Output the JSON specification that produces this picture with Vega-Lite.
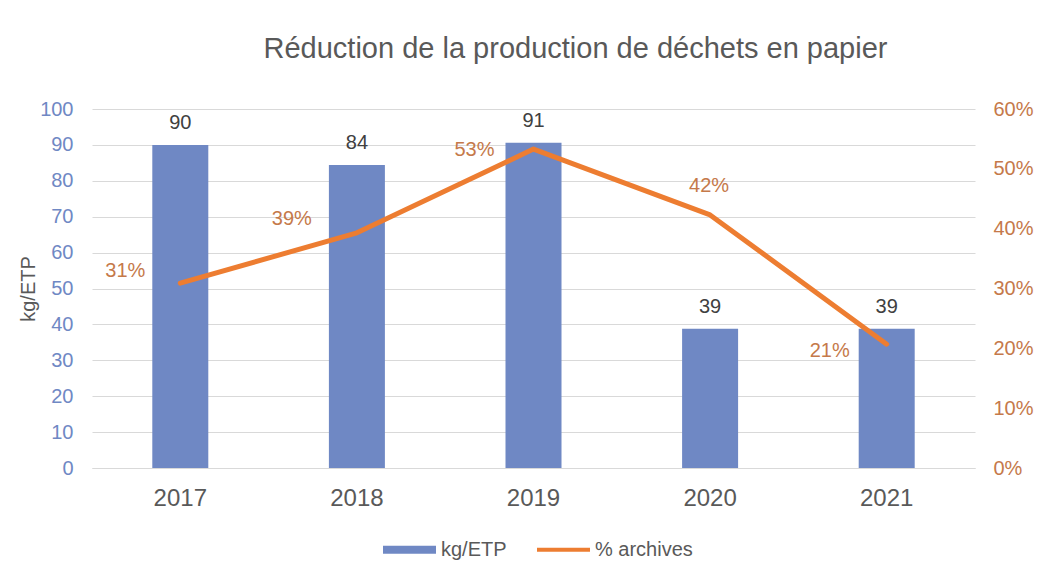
{
  "$schema": "https://vega.github.io/schema/vega-lite/v6.json",
  "width": 883,
  "height": 359,
  "autosize": {"type": "none"},
  "padding": {"left": 92, "top": 109, "right": 79, "bottom": 110},
  "background": "white",
  "title": {
    "text": "Réduction de la production de déchets en papier",
    "font": "Liberation Sans",
    "fontSize": 29,
    "fontWeight": "normal",
    "color": "#595959",
    "anchor": "middle",
    "frame": "group",
    "dx": 42,
    "offset": 35
  },
  "data": {
    "values": [
      {"year": "2017", "kg": 90, "pct": 0.309},
      {"year": "2018", "kg": 84.4, "pct": 0.393},
      {"year": "2019", "kg": 90.6, "pct": 0.533},
      {"year": "2020", "kg": 38.8, "pct": 0.423},
      {"year": "2021", "kg": 38.8, "pct": 0.207}
    ]
  },
  "encoding": {
    "x": {
      "field": "year",
      "type": "ordinal",
      "scale": {"paddingInner": 0, "paddingOuter": 0},
      "axis": {
        "title": null,
        "labelAngle": 0,
        "labelFontSize": 24,
        "labelColor": "#595959",
        "labelPadding": 18,
        "domain": true,
        "domainColor": "#D9D9D9",
        "domainWidth": 1,
        "ticks": false,
        "grid": false
      }
    }
  },
  "layer": [
    {
      "encoding": {
        "y": {
          "field": "kg",
          "type": "quantitative",
          "scale": {"domain": [0, 100], "nice": false},
          "axis": {
            "values": [0, 10, 20, 30, 40, 50, 60, 70, 80, 90, 100],
            "labelOverlap": false,
            "labelColor": "#6F88C4",
            "labelFontSize": 20,
            "labelPadding": 19,
            "title": "kg/ETP",
            "titleColor": "#595959",
            "titleFontSize": 20,
            "titleFontWeight": "normal",
            "titlePadding": 1,
            "grid": true,
            "gridColor": "#D9D9D9",
            "gridWidth": 1,
            "domain": false,
            "ticks": false
          }
        }
      },
      "layer": [
        {
          "mark": {"type": "bar", "size": 56},
          "encoding": {
            "color": {
              "datum": "kg/ETP",
              "type": "nominal",
              "scale": {"domain": ["kg/ETP", "% archives"], "range": ["#6F88C4", "#ED7D31"]},
              "legend": {
                "orient": "none",
                "legendX": 291,
                "legendY": 414,
                "direction": "horizontal",
                "title": null,
                "labelFontSize": 20,
                "labelColor": "#595959",
                "labelFont": "Liberation Sans",
                "symbolSize": 2809,
                "symbolType": "M-1,-0.15L1,-0.15L1,0.15L-1,0.15Z",
                "symbolStrokeWidth": 0,
                "labelOffset": 5,
                "columnPadding": 30,
                "padding": 0,
                "encode": {
                  "symbols": {
                    "update": {
                      "shape": {"signal": "datum.label === 'kg/ETP' ? 'M-1,-0.15L1,-0.15L1,0.15L-1,0.15Z' : 'M-1,-0.075L1,-0.075L1,0.075L-1,0.075Z'"},
                      "fill": {"scale": "color", "field": "value"},
                      "opacity": {"value": 1},
                      "fillOpacity": {"value": 1}
                    }
                  }
                }
              }
            }
          }
        },
        {
          "mark": {"type": "text", "baseline": "middle", "dy": -22, "fontSize": 20, "color": "#404040", "font": "Liberation Sans"},
          "encoding": {
            "text": {"field": "kg", "type": "quantitative", "format": ".0f"}
          }
        }
      ]
    },
    {
      "encoding": {
        "y": {
          "field": "pct",
          "type": "quantitative",
          "scale": {"domain": [0, 0.6], "nice": false},
          "axis": {
            "orient": "right",
            "values": [0, 0.1, 0.2, 0.3, 0.4, 0.5, 0.6],
            "format": ".0%",
            "labelOverlap": false,
            "labelColor": "#C5794A",
            "labelFontSize": 20,
            "labelPadding": 18,
            "grid": false,
            "domain": false,
            "ticks": false,
            "title": null
          }
        }
      },
      "layer": [
        {
          "mark": {"type": "line", "strokeWidth": 5, "strokeCap": "round", "strokeJoin": "round"},
          "encoding": {
            "color": {"datum": "% archives", "type": "nominal"}
          }
        },
        {
          "transform": [{"filter": "datum.year == '2017'"}],
          "mark": {"type": "text", "align": "right", "baseline": "middle", "dx": -35, "dy": -12, "fontSize": 20, "color": "#C5794A", "font": "Liberation Sans"},
          "encoding": {"text": {"field": "pct", "type": "quantitative", "format": ".0%"}}
        },
        {
          "transform": [{"filter": "datum.year == '2018'"}],
          "mark": {"type": "text", "align": "right", "baseline": "middle", "dx": -45, "dy": -14, "fontSize": 20, "color": "#C5794A", "font": "Liberation Sans"},
          "encoding": {"text": {"field": "pct", "type": "quantitative", "format": ".0%"}}
        },
        {
          "transform": [{"filter": "datum.year == '2019'"}],
          "mark": {"type": "text", "align": "right", "baseline": "middle", "dx": -39, "dy": 1, "fontSize": 20, "color": "#C5794A", "font": "Liberation Sans"},
          "encoding": {"text": {"field": "pct", "type": "quantitative", "format": ".0%"}}
        },
        {
          "transform": [{"filter": "datum.year == '2020'"}],
          "mark": {"type": "text", "align": "center", "baseline": "middle", "dx": -1, "dy": -29, "fontSize": 20, "color": "#C5794A", "font": "Liberation Sans"},
          "encoding": {"text": {"field": "pct", "type": "quantitative", "format": ".0%"}}
        },
        {
          "transform": [{"filter": "datum.year == '2021'"}],
          "mark": {"type": "text", "align": "right", "baseline": "middle", "dx": -37, "dy": 7, "fontSize": 20, "color": "#C5794A", "font": "Liberation Sans"},
          "encoding": {"text": {"field": "pct", "type": "quantitative", "format": ".0%"}}
        }
      ]
    }
  ],
  "resolve": {"scale": {"y": "independent"}},
  "config": {
    "font": "Liberation Sans",
    "axis": {"labelFont": "Liberation Sans", "titleFont": "Liberation Sans", "tickSize": 0},
    "view": {"stroke": null}
  }
}
